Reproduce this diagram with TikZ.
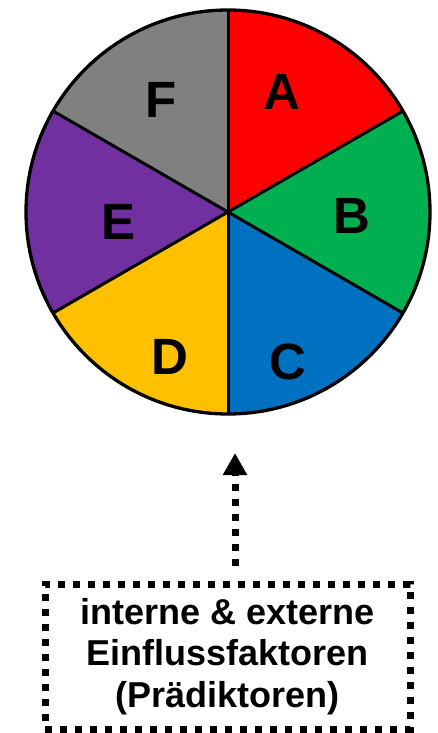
\documentclass[tikz,border=0pt]{standalone}
\usepackage{fontspec}
\setmainfont{Liberation Sans}
\usetikzlibrary{arrows.meta,calc}
\definecolor{cA}{HTML}{FF0000}
\definecolor{cB}{HTML}{00B050}
\definecolor{cC}{HTML}{0070C0}
\definecolor{cD}{HTML}{FFC000}
\definecolor{cE}{HTML}{7030A0}
\definecolor{cF}{HTML}{808080}
\begin{document}
\begin{tikzpicture}[x=1pt,y=1pt,
  seclabel/.style={font=\fontsize{51}{51}\selectfont\bfseries, inner sep=0pt},
  sepline/.style={line width=3pt},
  dotline/.style={line width=7pt, dash pattern=on 7pt off 8pt},
  boxtext/.style={font=\fontsize{36}{41.5}\selectfont\bfseries, align=center}]
\useasboundingbox (0,0) rectangle (437,-733);
\coordinate (O) at (228,-212);
\foreach \a/\b/\c in {30/90/cA, -30/30/cB, -90/-30/cC, 210/270/cD, 150/210/cE, 90/150/cF}
  \fill[\c] (O) -- ++(\a:202) arc[start angle=\a, end angle=\b, radius=202] -- cycle;
\foreach \a in {30,90,150,210,270,330}
  \draw[sepline] (O) -- ++(\a:202);
\draw[line width=3.3pt] (O) circle[radius=202];
\node[seclabel] (lA) at (281.7,-91.7) {A};
\node[seclabel] (lB) at (351.8,-216) {B};
\node[seclabel] (lC) at (287.7,-361.7) {C};
\node[seclabel] (lD) at (169.7,-356.7) {D};
\node[seclabel] (lE) at (118.3,-222) {E};
\node[seclabel] (lF) at (161,-100) {F};
\node[draw, dotline, boxtext, minimum width=365pt, minimum height=145pt, inner sep=0pt] (box) at (227.5,-656.5) {interne \& externe\\Einflussfaktoren\\(Prädiktoren)};
\coordinate (tail) at ($(box.north)+(7.5,15)$);
\coordinate (tip) at (235,-453);
\draw[dotline, -{Triangle[length=22pt,width=23pt]}] (tail) -- (tip);
\end{tikzpicture}
\end{document}
